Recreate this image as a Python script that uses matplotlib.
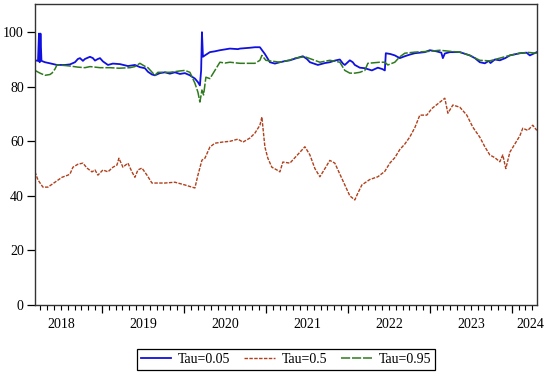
import matplotlib
matplotlib.use('Agg')
import matplotlib.pyplot as plt
import matplotlib.transforms as mtransforms
from matplotlib.ticker import MultipleLocator

plt.rcParams['font.family'] = ['Liberation Serif', 'DejaVu Serif']

# Tau=0.05 (decimal year, value)
t05 = [2018.183, 2018.220, 2018.232, 2018.240, 2018.250, 2018.262, 2018.305, 2018.366, 2018.451,
       2018.549, 2018.610, 2018.671, 2018.707, 2018.732, 2018.768, 2018.793, 2018.854, 2018.890,
       2018.915, 2018.951, 2018.976, 2019.012, 2019.073, 2019.134, 2019.220, 2019.317, 2019.402,
       2019.463, 2019.524, 2019.561, 2019.610, 2019.646, 2019.707, 2019.768, 2019.829, 2019.890,
       2019.951, 2020.012, 2020.073, 2020.134, 2020.171, 2020.195, 2020.210, 2020.220, 2020.232,
       2020.256, 2020.317, 2020.378, 2020.439, 2020.500, 2020.561, 2020.659, 2020.683, 2020.805,
       2020.866, 2020.927, 2020.951, 2020.988, 2021.049, 2021.110, 2021.171, 2021.232, 2021.293,
       2021.354, 2021.451, 2021.500, 2021.537, 2021.634, 2021.720, 2021.780, 2021.841, 2021.902,
       2021.940, 2021.963, 2022.024, 2022.060, 2022.085, 2022.146, 2022.207, 2022.293, 2022.366,
       2022.420, 2022.451, 2022.463, 2022.520, 2022.573, 2022.634, 2022.695, 2022.756, 2022.817,
       2022.878, 2022.939, 2023.000, 2023.080, 2023.140, 2023.159, 2023.183, 2023.244, 2023.366,
       2023.488, 2023.550, 2023.610, 2023.671, 2023.720, 2023.740, 2023.793, 2023.854, 2023.920,
       2023.976, 2024.098, 2024.180, 2024.220, 2024.305]
v05 = [89.7, 89.5, 99.5, 89.0, 99.5, 89.5, 89.0, 88.6, 88.0,
       88.0, 88.2, 89.0, 90.2, 90.5, 89.5, 90.2, 91.0, 90.5,
       89.6, 90.2, 90.5, 89.3, 88.0, 88.5, 88.3, 87.6, 88.0,
       87.2, 86.8, 85.5, 84.5, 84.2, 85.0, 85.3, 84.8, 85.3,
       84.7, 85.0, 84.2, 83.0, 81.7, 80.5, 86.0, 100.0, 91.0,
       91.5, 92.7, 93.0, 93.4, 93.7, 94.0, 93.8, 94.0, 94.3,
       94.5, 94.5, 93.5, 92.0, 89.0, 88.5, 89.0, 89.4, 89.7,
       90.3, 91.2, 90.2, 89.0, 88.0, 88.7, 89.0, 89.6, 90.0,
       88.5, 88.0, 89.7, 89.0, 88.0, 87.0, 86.8, 86.0, 87.0,
       86.5, 86.0, 92.3, 92.0, 91.5, 90.5, 91.2, 91.8, 92.3,
       92.5, 92.7, 93.4, 93.0, 92.5, 90.5, 92.2, 92.7, 92.7,
       91.5, 90.5, 89.0, 88.6, 89.5, 88.7, 90.0, 89.7, 90.5,
       91.5, 92.3, 92.5, 91.5, 92.7]

# Tau=0.5
t50 = [2018.183, 2018.220, 2018.280, 2018.341, 2018.427, 2018.512, 2018.585, 2018.610, 2018.646,
       2018.707, 2018.768, 2018.817, 2018.878, 2018.915, 2018.951, 2019.012, 2019.073, 2019.134,
       2019.183, 2019.207, 2019.256, 2019.317, 2019.366, 2019.402, 2019.439, 2019.488, 2019.549,
       2019.610, 2019.683, 2019.768, 2019.890, 2020.012, 2020.098, 2020.134, 2020.171, 2020.220,
       2020.256, 2020.317, 2020.378, 2020.463, 2020.561, 2020.659, 2020.720, 2020.805, 2020.866,
       2020.927, 2020.951, 2020.988, 2021.024, 2021.073, 2021.134, 2021.171, 2021.207, 2021.293,
       2021.415, 2021.476, 2021.537, 2021.598, 2021.659, 2021.720, 2021.780, 2021.841, 2021.902,
       2021.963, 2022.024, 2022.085, 2022.122, 2022.171, 2022.268, 2022.366, 2022.451, 2022.512,
       2022.573, 2022.634, 2022.695, 2022.756, 2022.817, 2022.878, 2022.963, 2023.024, 2023.183,
       2023.220, 2023.281, 2023.366, 2023.451, 2023.524, 2023.610, 2023.671, 2023.732, 2023.793,
       2023.854, 2023.890, 2023.927, 2023.976, 2024.037, 2024.098, 2024.134, 2024.195, 2024.256,
       2024.305]
v50 = [48.8, 45.8, 43.2, 43.2, 45.0, 46.8, 47.6, 48.0, 50.5,
       51.6, 52.0, 50.2, 48.8, 49.5, 47.6, 49.5, 48.8, 50.5,
       51.3, 53.8, 50.5, 52.0, 48.8, 46.8, 49.5, 50.2, 47.6,
       44.7, 44.7, 44.7, 45.0, 44.0, 43.2, 42.9, 47.6, 53.1,
       53.8, 57.9, 59.3, 59.7, 60.0, 60.8, 59.7, 61.2, 63.0,
       65.9, 68.9, 57.9, 53.8, 50.5, 49.5, 48.8, 52.4, 52.0,
       56.0, 58.0, 55.0, 50.0, 47.0, 50.0, 53.0, 52.0, 48.0,
       44.0, 40.0, 38.5, 41.0, 44.0, 46.0, 47.0, 49.0, 52.0,
       54.0, 57.0, 59.0, 61.6, 65.0, 69.6, 69.6, 72.0, 75.8,
       70.3, 73.3, 72.5, 69.6, 65.2, 61.5, 58.0, 55.0, 54.0,
       52.5, 55.0, 50.0, 56.0, 59.0, 62.0, 64.8, 64.0, 65.9,
       64.0]

# Tau=0.95
t95 = [2018.183, 2018.244, 2018.305, 2018.366, 2018.390, 2018.427, 2018.451, 2018.549, 2018.610,
       2018.707, 2018.793, 2018.854, 2018.976, 2019.098, 2019.207, 2019.341, 2019.402, 2019.463,
       2019.524, 2019.561, 2019.646, 2019.683, 2019.829, 2019.951, 2020.012, 2020.073, 2020.134,
       2020.171, 2020.195, 2020.220, 2020.240, 2020.268, 2020.317, 2020.378, 2020.439, 2020.500,
       2020.561, 2020.683, 2020.805, 2020.866, 2020.927, 2020.951, 2021.000, 2021.171, 2021.293,
       2021.354, 2021.476, 2021.659, 2021.780, 2021.902, 2021.963, 2022.024, 2022.085, 2022.146,
       2022.207, 2022.244, 2022.390, 2022.451, 2022.488, 2022.573, 2022.634, 2022.695, 2022.817,
       2023.000, 2023.122, 2023.244, 2023.366, 2023.488, 2023.610, 2023.732, 2023.854, 2023.976,
       2024.098, 2024.200, 2024.305]
v95 = [86.0, 85.0, 84.2, 84.5, 85.0, 86.5, 88.0, 87.8, 87.6,
       87.2, 87.0, 87.4, 87.0, 87.0, 86.8, 87.0, 87.4, 88.6,
       87.5, 87.0, 84.2, 85.3, 85.3, 85.8, 86.0, 85.3, 81.3,
       78.0, 74.4, 78.8, 77.0, 83.5, 83.0, 86.0, 89.0, 88.7,
       89.0, 88.6, 88.6, 88.6, 89.7, 91.5, 89.7, 89.0, 89.8,
       90.5, 91.0, 89.0, 89.7, 89.0, 86.0, 85.0, 85.0, 85.3,
       86.0, 88.6, 89.0, 89.0, 88.0, 89.0, 91.0, 92.3, 92.7,
       93.0, 93.4, 93.0, 92.7, 91.5, 89.7, 89.5, 90.5, 91.5,
       92.3, 92.6, 92.3]

years = [2018, 2019, 2020, 2021, 2022, 2023, 2024]

fig = plt.figure(figsize=(5.5, 3.76), dpi=100)
ax = fig.add_axes([0.0636, 0.189, 0.9124, 0.8])

ax.plot(t05, v05, color='#1010e0', lw=1.3, label='Tau=0.05')
ax.plot(t50, v50, color='#b0401c', lw=1.0, ls=(0, (2.5, 1)), label='Tau=0.5')
ax.plot(t95, v95, color='#2f7a1e', lw=1.1, ls=(0, (6, 1.2)), label='Tau=0.95')

ax.set_xlim(2018.183, 2024.305)
ax.set_ylim(0, 110.3)
ax.set_yticks([0, 20, 40, 60, 80, 100])
ax.tick_params(axis='y', direction='out', length=6, width=0.9, labelsize=10, pad=2, right=False)
ax.set_xticks(years[1:])
ax.set_xticklabels([])
ax.xaxis.set_minor_locator(MultipleLocator(1 / 12))
ax.tick_params(axis='x', which='major', direction='out', length=6, width=0.9, top=False)
ax.tick_params(axis='x', which='minor', direction='out', length=3.5, width=0.8, top=False)

# year labels centred inside each year, last one kept inside the frame
trans = mtransforms.blended_transform_factory(ax.transData, ax.transAxes)
for y in years:
    xp = y + 0.5 if y < 2024 else 2024.22
    ax.text(xp, -0.045, str(y), transform=trans, ha='center', va='top', fontsize=10)

for s in ax.spines.values():
    s.set_linewidth(1.0)
    s.set_color('#333333')

leg = fig.legend(loc='center', bbox_to_anchor=(0.52, 0.043), ncol=3, fontsize=10,
                 frameon=True, fancybox=False, edgecolor='black', framealpha=1,
                 handlelength=2.2, columnspacing=1.0, handletextpad=0.5,
                 borderpad=0.3)
leg.get_frame().set_linewidth(0.9)

plt.savefig('out.png', dpi=100)
